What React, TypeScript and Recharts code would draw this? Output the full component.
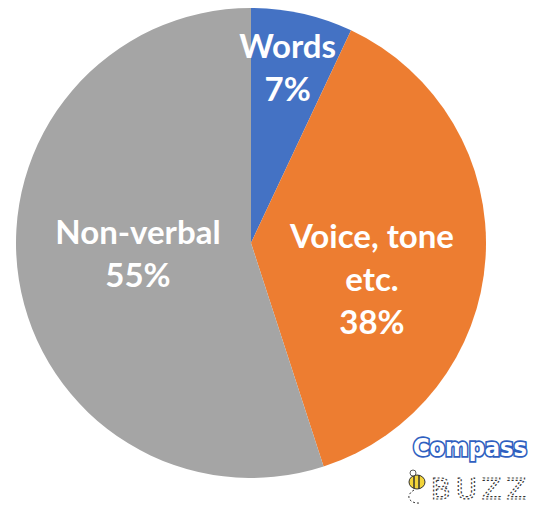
import React from "react";
import { PieChart, Pie, Cell } from "recharts";

const categories = ["Words", "Voice, tone etc.", "Non-verbal"];
const shares = [7, 38, 55];
const labelLines = [["Words"], ["Voice, tone", "etc."], ["Non-verbal"]];
const colors = ["#4472C4", "#ED7D31", "#A5A5A5"];

const data = categories.map((name, i) => ({ name, value: shares[i] }));

// label placement along the slice's mid angle (fraction of the radius), plus a small nudge
const labelRadius = [0.715, 0.516, 0.487];
const labelNudge = [0, 40, 5];
const RADIAN = Math.PI / 180;

const renderLabel = (props: any) => {
  const { cx, cy, midAngle, outerRadius, index, value } = props;
  const r = outerRadius * labelRadius[index];
  const x = cx + r * Math.cos(-midAngle * RADIAN);
  const y = cy + r * Math.sin(-midAngle * RADIAN) + labelNudge[index];
  const lines = [...labelLines[index], `${value}%`];
  const lh = 43;
  return (
    <text
      x={x}
      y={y}
      textAnchor="middle"
      fill="#fff"
      fontFamily="Lato, sans-serif"
      fontWeight="bold"
      fontSize={33}
    >
      {lines.map((t, i) => (
        <tspan key={i} x={x} y={y + (i - (lines.length - 1) / 2) * lh}>
          {t}
        </tspan>
      ))}
    </text>
  );
};

const Logo = () => (
  <svg
    width={540}
    height={512}
    style={{ position: "absolute", left: 0, top: 0, pointerEvents: "none" }}
  >
    <text
      x={413}
      y={456}
      fontFamily="DejaVu Sans, sans-serif"
      fontWeight="bold"
      fontSize={25}
      textLength={114}
      lengthAdjust="spacingAndGlyphs"
      fill="#fff"
      stroke="#2f5fc0"
      strokeWidth={3.5}
      paintOrder="stroke"
    >
      Compass
    </text>
    <path d="M414 490 C 404 496, 410 504, 420 503" fill="none" stroke="#333" strokeWidth={1} strokeDasharray="2 2" />
    <ellipse cx={417} cy={482} rx={8} ry={7} fill="#f2d43a" stroke="#333" strokeWidth={1} />
    <line x1={414} y1={476} x2={414} y2={488} stroke="#333" strokeWidth={1.5} />
    <line x1={419} y1={475} x2={419} y2={489} stroke="#333" strokeWidth={1.5} />
    <circle cx={413} cy={473} r={3} fill="#fff" stroke="#333" strokeWidth={0.8} />
    <text
      x={481}
      y={499}
      textAnchor="middle"
      fontFamily="DejaVu Sans, sans-serif"
      fontSize={29}
      fill="none"
      stroke="#333"
      strokeWidth={1.2}
      strokeDasharray="2 2"
      letterSpacing={5}
    >
      BUZZ
    </text>
  </svg>
);

const App = () => {
  return (
    <div style={{ position: "absolute", left: 0, top: 0, width: 540, height: 512, background: "#fff" }}>
      <PieChart width={540} height={512} margin={{ top: 0, right: 0, bottom: 0, left: 0 }}>
        <Pie
          data={data}
          dataKey="value"
          nameKey="name"
          cx={251}
          cy={243}
          outerRadius={235}
          startAngle={90}
          endAngle={-270}
          stroke="none"
          labelLine={false}
          label={renderLabel}
          isAnimationActive={false}
        >
          {data.map((d, i) => (
            <Cell key={d.name} fill={colors[i]} />
          ))}
        </Pie>
      </PieChart>
      <Logo />
    </div>
  );
};

export default App;
